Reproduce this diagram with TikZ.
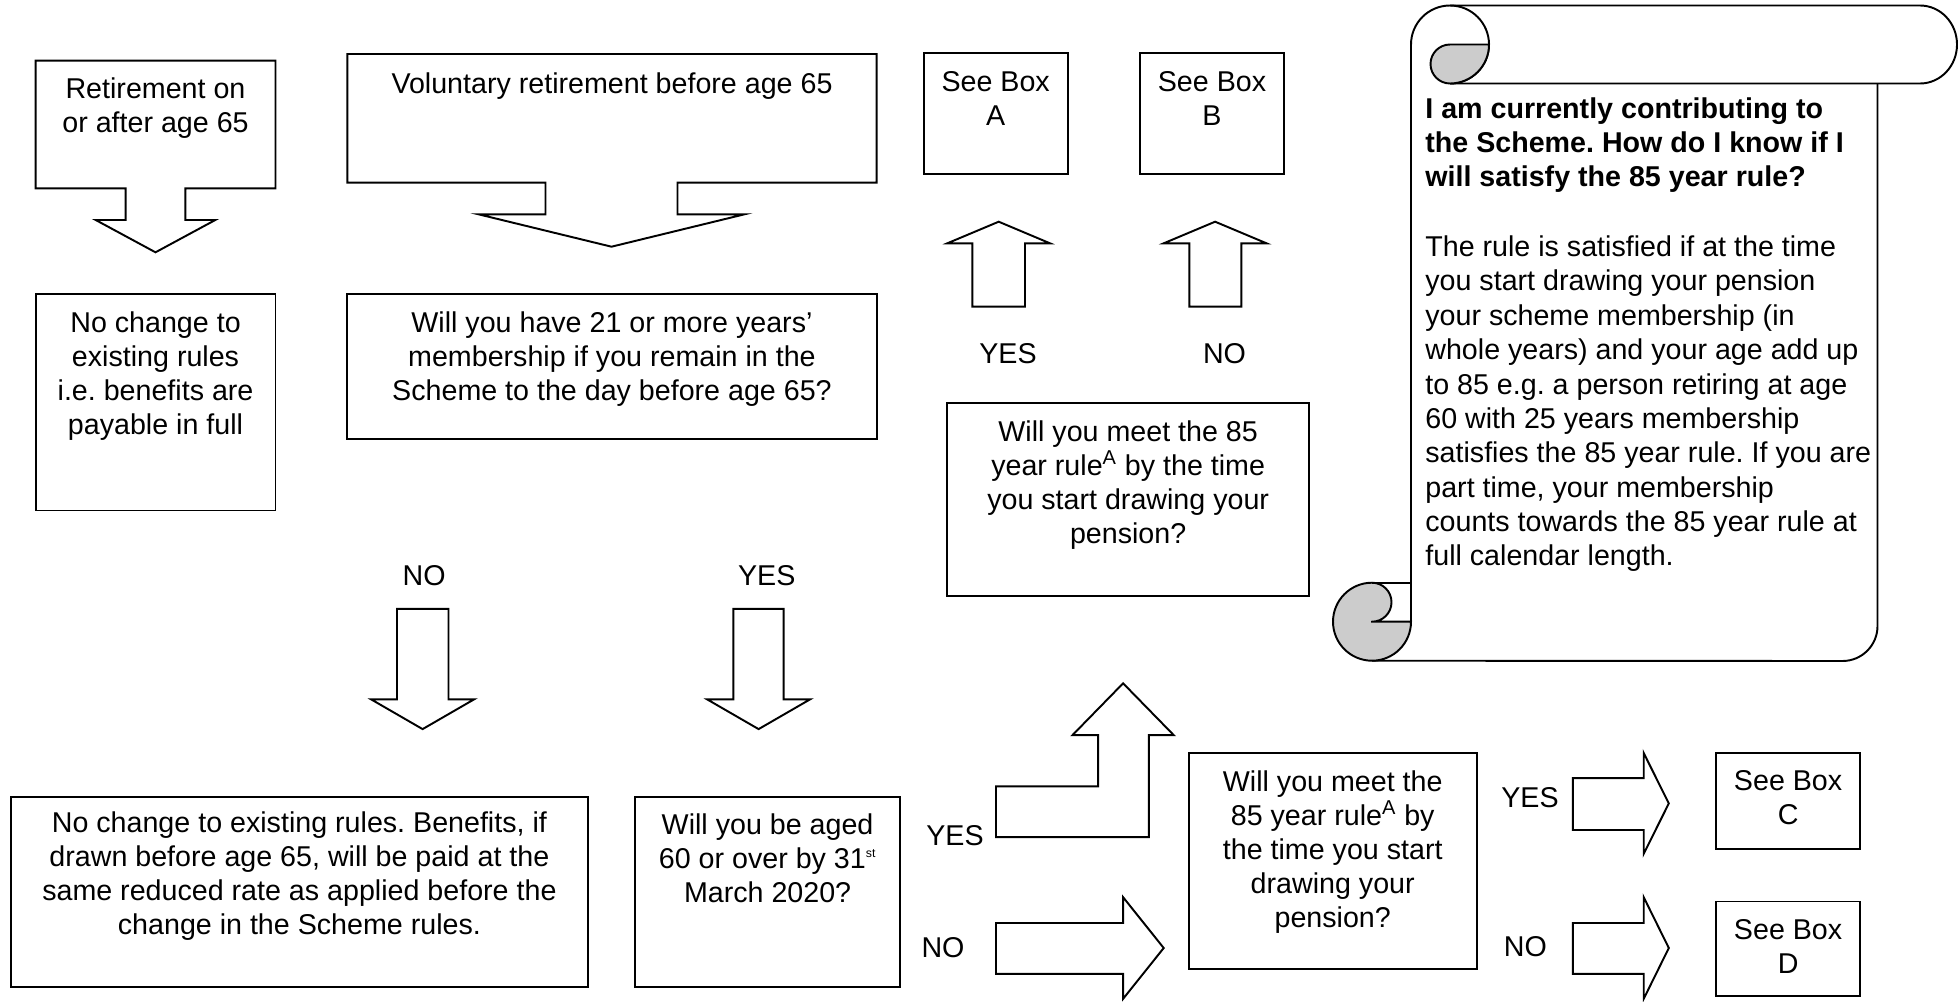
\documentclass[tikz,border=0pt]{standalone}
\usepackage{fontspec}
\setmainfont{Liberation Sans}
\frenchspacing
\usetikzlibrary{fit,calc}

\tikzset{
  box/.style={draw, line width=1.1pt, inner sep=0pt},
  shp/.style={draw, line width=1.1pt, line join=miter},
  roll/.style={draw, line width=1.1pt, fill=black!20},
  txt/.style={anchor=north, align=center, inner sep=0pt, font=\fontsize{16.3}{19.35}\selectfont, execute at begin node=\strut},
  head/.style={txt, anchor=north west, align=left, font=\fontsize{16.3}{19.35}\selectfont\bfseries},
  lbl/.style={inner sep=0pt, font=\fontsize{16.3}{19.35}\selectfont}
}

\begin{document}
\begin{tikzpicture}[x=0.02cm, y=-0.02cm]
\useasboundingbox (0,0) rectangle (1960,1001);

\draw[shp] (35.6,60.7) -- (275.5,60.7) -- (275.5,188.3) -- (185.4,188.3) -- (185.4,220) -- (215.3,220) -- (155.5,252.3) -- (95.7,220) -- (125.6,220) -- (125.6,188.3) -- (35.6,188.3) -- cycle;
\node[txt] (retire) at (155.5,77) {Retirement on\\or after age 65};

\draw[shp] (347.3,54) -- (876.6,54) -- (876.6,182.7) -- (677.5,182.7) -- (677.5,214.3) -- (744.5,214.3) -- (611.5,246.7) -- (478.5,214.3) -- (545.5,214.3) -- (545.5,182.7) -- (347.3,182.7) -- cycle;
\node[txt] (volret) at (612,69.5) {Voluntary retirement before age 65};

\node[box, fit={(35.6,294) (275.5,510.5)}] (nochange) {};
\node[txt] (nochange-t) at ($(nochange.north)+(0,18.5)$) {No change to\\existing rules\\i.e. benefits are\\payable in full};

\node[box, fit={(347.3,294) (876.6,439.3)}] (member) {};
\node[txt] (member-t) at ($(member.north)+(0,18.5)$) {Will you have 21 or more years’\\membership if you remain in the\\Scheme to the day before age 65?};

\node[box, fit={(923.7,53.3) (1067.7,174.3)}] (boxA) {};
\node[txt] (boxA-t) at ($(boxA.north)+(0,19)$) {See Box\\A};
\node[box, fit={(1140,53.3) (1284,174.3)}] (boxB) {};
\node[txt] (boxB-t) at ($(boxB.north)+(0,19)$) {See Box\\B};

\draw[shp] (972.3,306.7) -- (972.3,243.3) -- (947.3,243.3) -- (998.7,221.7) -- (1050,243.3) -- (1025,243.3) -- (1025,306.7) -- cycle;
\draw[shp] (1189.4,306.7) -- (1189.4,243.3) -- (1163.7,243.3) -- (1215.1,221.7) -- (1266.5,243.3) -- (1241.4,243.3) -- (1241.4,306.7) -- cycle;
\node[lbl] (yesA) at (1008,353.3) {YES};
\node[lbl] (noB) at (1224.5,353.3) {NO};

\node[box, fit={(947.3,403.3) (1309,595.6)}] (rule85) {};
\node[txt] (rule85-t) at ($(rule85.north)+(0,18)$) {Will you meet the 85\\year rule\textsuperscript{A} by the time\\you start drawing your\\pension?};

\node[lbl] (noL) at (424.2,575.2) {NO};
\node[lbl] (yesL) at (766.7,575.2) {YES};
\draw[shp] (397,608.9) -- (448.5,608.9) -- (448.5,699.4) -- (474,699.4) -- (422.6,729.1) -- (371.2,699.4) -- (397,699.4) -- cycle;
\draw[shp] (733.3,608.9) -- (783.6,608.9) -- (783.6,699.4) -- (810,699.4) -- (758.6,729.1) -- (707.2,699.4) -- (733.3,699.4) -- cycle;

\node[box, fit={(10.9,797) (587.9,987.4)}] (rules) {};
\node[txt] (rules-t) at ($(rules.north)+(0,15)$) {No change to existing rules. Benefits, if\\drawn before age 65, will be paid at the\\same reduced rate as applied before the\\change in the Scheme rules.};

\node[box, fit={(635.2,797) (900,987.4)}] (aged60) {};
\node[txt] (aged60-t) at ($(aged60.north)+(0,17)$) {Will you be aged\\60 or over by 31\textsuperscript{\fontsize{7}{7}\selectfont st}\\March 2020?};

\node[lbl] (yesM) at (955,835.3) {YES};
\node[lbl] (noM) at (943,947.5) {NO};
\draw[shp] (996,786.3) -- (1098.1,786.3) -- (1098.1,735.2) -- (1072.4,735.2) -- (1123.1,683.3) -- (1173.8,735.2) -- (1148.8,735.2) -- (1148.8,837.1) -- (996,837.1) -- cycle;
\draw[shp] (996,923) -- (1123.1,923) -- (1123.1,897.2) -- (1163.7,948) -- (1123.1,998.8) -- (1123.1,973.8) -- (996,973.8) -- cycle;

\node[box, fit={(1188.7,753) (1476.7,968.8)}] (rule85b) {};
\node[txt] (rule85b-t) at ($(rule85b.north)+(0,18)$) {Will you meet the\\85 year rule\textsuperscript{A} by\\the time you start\\drawing your\\pension?};

\node[lbl] (yesR) at (1530,797.8) {YES};
\node[lbl] (noR) at (1525.4,946.3) {NO};
\draw[shp] (1572.8,778.1) -- (1643.7,778.1) -- (1643.7,753) -- (1668.8,803.4) -- (1643.7,853.8) -- (1643.7,830) -- (1572.8,830) -- cycle;
\draw[shp] (1572.8,923) -- (1643.7,923) -- (1643.7,897.2) -- (1668.8,948) -- (1643.7,998.8) -- (1643.7,973.8) -- (1572.8,973.8) -- cycle;

\node[box, fit={(1716.1,753) (1860.1,848.9)}] (boxC) {};
\node[txt] (boxC-t) at ($(boxC.north)+(0,18)$) {See Box\\C};
\node[box, fit={(1716.1,901.5) (1860.1,996)}] (boxD) {};
\node[txt] (boxD-t) at ($(boxD.north)+(0,18.5)$) {See Box\\D};

\draw[shp] (1411,621.7) -- (1411,44.5) arc[start angle=180, end angle=270, radius=39] -- (1920,5.5) arc[start angle=270, end angle=450, x radius=37, y radius=39] -- (1450,83.5);
\draw[shp] (1450,5.5) arc[start angle=270, end angle=450, radius=39];
\draw[roll] (1450,44.5) -- (1489,44.5) arc[start angle=0, end angle=90, radius=39] arc[start angle=90, end angle=270, radius=19.5] -- cycle;
\draw[shp] (1877.5,83.5) -- (1877.5,626) arc[start angle=0, end angle=90, radius=35] -- (1372,660.7);
\draw[roll] (1372,621.7) -- (1411,621.7) arc[start angle=0, end angle=270, radius=39] arc[start angle=270, end angle=450, radius=19.5] -- cycle;
\draw[shp] (1372,582.7) -- (1411,582.7);

\node[head] (question) at (1425,97) {I am currently contributing to\\the Scheme. How do I know if I\\will satisfy the 85 year rule?};
\node[head, font=\fontsize{16.3}{19.55}\selectfont] (answer) at (1425,235.5) {The rule is satisfied if at the time\\you start drawing your pension\\your scheme membership (in\\whole years) and your age add up\\to 85 e.g. a person retiring at age\\60 with 25 years membership\\satisfies the 85 year rule. If you are\\part time, your membership\\counts towards the 85 year rule at\\full calendar length.};
\end{tikzpicture}
\end{document}
